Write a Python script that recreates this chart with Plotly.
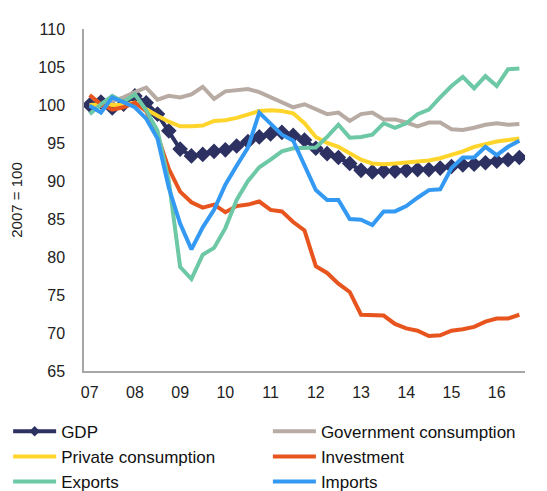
import plotly.graph_objects as go

# Quarterly index, 2007Q1 .. 2016Q3 (2007 = 100)
tick_labels = ["07", "08", "09", "10", "11", "12", "13", "14", "15", "16"]

gdp = [100.0, 100.4, 99.6, 100.1, 101.2, 100.3, 98.8, 96.6, 94.2, 93.3,
       93.5, 93.9, 94.1, 94.6, 95.2, 95.8, 96.2, 96.4, 96.0, 95.4,
       94.3, 93.6, 93.1, 92.3, 91.4, 91.2, 91.3, 91.3, 91.4, 91.5,
       91.5, 91.7, 91.9, 92.1, 92.2, 92.4, 92.6, 92.8, 93.1]

gov = [100.0, 99.9, 100.5, 101.0, 101.7, 102.3, 100.7, 101.2, 101.0, 101.4,
       102.4, 100.8, 101.8, 102.0, 102.1, 101.7, 101.0, 100.3, 99.7, 100.1,
       99.5, 98.8, 99.0, 97.9, 98.8, 99.0, 98.1, 98.1, 97.7, 97.2,
       97.7, 97.7, 96.8, 96.7, 97.0, 97.4, 97.6, 97.4, 97.5]

private = [100.0, 100.1, 100.0, 100.0, 100.3, 99.4, 98.6, 97.8, 97.2, 97.2,
           97.3, 97.9, 98.0, 98.3, 98.7, 99.2, 99.3, 99.2, 98.9, 97.6,
           95.8, 95.0, 94.5, 93.7, 92.8, 92.3, 92.2, 92.3, 92.4, 92.5,
           92.7, 93.0, 93.4, 93.9, 94.5, 94.9, 95.2, 95.4, 95.6]

investment = [101.3, 100.1, 99.4, 99.7, 100.3, 99.2, 96.0, 91.6, 88.6, 87.2,
              86.5, 86.9, 85.9, 86.7, 86.9, 87.3, 86.2, 86.0, 84.6, 83.5,
              78.8, 77.9, 76.5, 75.4, 72.4, 72.3, 72.3, 71.2, 70.6, 70.3,
              69.6, 69.7, 70.3, 70.5, 70.8, 71.5, 71.9, 71.9, 72.4]

exports = [98.8, 100.1, 101.2, 100.4, 101.4, 99.3, 96.6, 90.0, 78.7, 77.1,
           80.3, 81.2, 83.8, 87.5, 90.0, 91.8, 92.8, 93.9, 94.3, 94.3,
           94.4, 95.8, 97.4, 95.7, 95.8, 96.1, 97.6, 97.0, 97.6, 98.8,
           99.4, 101.0, 102.5, 103.7, 102.2, 103.8, 102.5, 104.7, 104.8]

imports = [99.9, 99.0, 101.0, 100.3, 99.7, 98.2, 95.6, 89.1, 84.4, 81.0,
           83.9, 86.2, 89.5, 92.0, 94.4, 99.0, 97.5, 96.1, 95.3, 92.2,
           88.8, 87.5, 87.5, 85.0, 84.9, 84.2, 86.0, 86.0, 86.7, 87.8,
           88.8, 88.9, 91.7, 93.1, 93.1, 94.5, 93.4, 94.5, 95.3]

x = list(range(len(gdp)))
tickvals = [4 * k for k in range(len(tick_labels))]

# name, values, colour, markers, legend column
series = [
    ("GDP", gdp, "#2C3162", True, "legend"),
    ("Government consumption", gov, "#B8ABA3", False, "legend2"),
    ("Private consumption", private, "#FFD52B", False, "legend"),
    ("Investment", investment, "#E8541D", False, "legend2"),
    ("Exports", exports, "#6DC8A6", False, "legend"),
    ("Imports", imports, "#3399F3", False, "legend2"),
]

fig = go.Figure()
for name, vals, color, markers, leg in series:
    if markers:
        fig.add_trace(go.Scatter(
            x=x, y=vals, name=name, mode="lines+markers", showlegend=False,
            line=dict(color=color, width=4),
            marker=dict(symbol="diamond", size=12, color=color),
        ))
        # legend-only entry with a small diamond
        fig.add_trace(go.Scatter(
            x=[None], y=[None], name=name, mode="lines+markers", legend=leg,
            line=dict(color=color, width=4),
            marker=dict(symbol="diamond", size=8, color=color),
        ))
    else:
        fig.add_trace(go.Scatter(
            x=x, y=vals, name=name, mode="lines", legend=leg,
            line=dict(color=color, width=4),
        ))

leg_common = dict(orientation="v", yanchor="top", xanchor="left",
                  font=dict(size=17, color="#111111"), itemwidth=43,
                  bgcolor="rgba(0,0,0,0)", traceorder="normal",
                  tracegroupgap=0)

fig.update_layout(
    width=547, height=491,
    margin=dict(l=76, r=30, t=21, b=128, autoexpand=False),
    paper_bgcolor="white", plot_bgcolor="white",
    font=dict(family="Liberation Sans, Arial, sans-serif", size=16, color="#222222"),
    showlegend=True,
    legend=dict(x=-0.172, y=-0.125, **leg_common),
    legend2=dict(x=0.417, y=-0.125, **leg_common),
    xaxis=dict(
        range=[-0.5, len(gdp) - 0.5], tickmode="array", tickvals=tickvals,
        ticktext=tick_labels, showgrid=False, zeroline=False,
        showline=True, linecolor="#A6A6A6", linewidth=1.5,
        ticks="outside", ticklen=6, tickcolor="rgba(0,0,0,0)",
        tickfont=dict(size=16, color="#222222"),
    ),
    yaxis=dict(
        range=[65, 110], dtick=5, showgrid=False, zeroline=False,
        showline=True, linecolor="#A6A6A6", linewidth=1.5,
        ticks="outside", ticklen=14, tickcolor="rgba(0,0,0,0)",
        tickfont=dict(size=16, color="#222222"),
        title=dict(text="2007 = 100", font=dict(size=15, color="#222222"), standoff=12),
    ),
)

fig.write_html("out.html")
